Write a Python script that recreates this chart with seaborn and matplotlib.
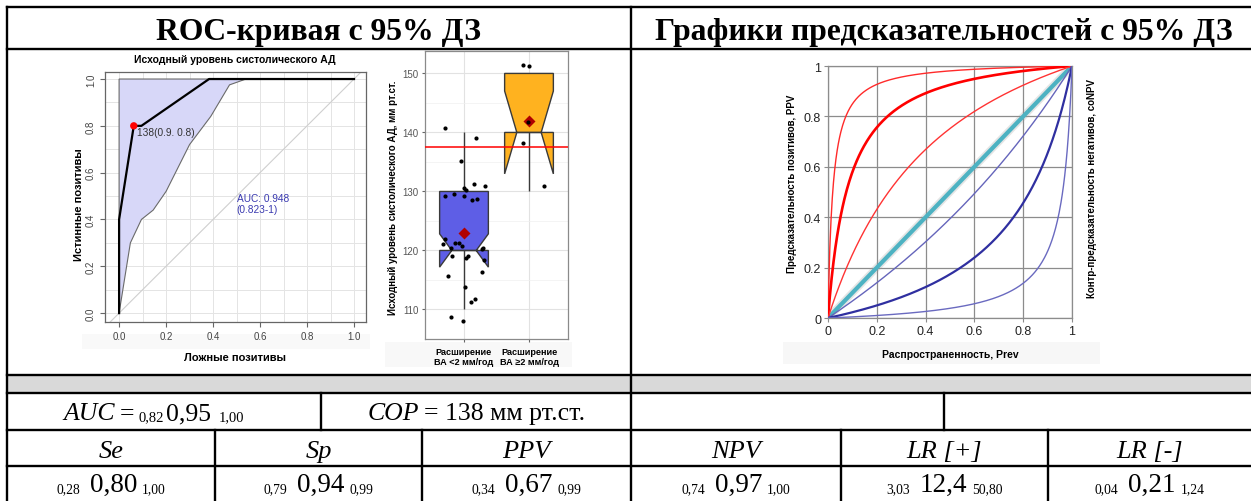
import numpy as np
import pandas as pd
import matplotlib
matplotlib.use("Agg")
import matplotlib.pyplot as plt
import seaborn as sns
from matplotlib.lines import Line2D
from matplotlib.patches import Rectangle

# ---------------- data ----------------
# ROC curve (false positives vs true positives)
roc_fpr = [0.0, 0.0, 0.0625, 0.095, 0.383, 1.0]
roc_tpr = [0.0, 0.40, 0.80, 0.80, 1.0, 1.0]
# lower edge of the 95% CI band
ci_lo_fpr = [0.0, 0.048, 0.095, 0.145, 0.20, 0.25, 0.30, 0.39, 0.47, 0.54]
ci_lo_tpr = [0.0, 0.30, 0.40, 0.44, 0.52, 0.62, 0.72, 0.84, 0.975, 1.0]
cut_fpr = [0.0625]
cut_tpr = [0.80]
cut_label = "138(0.9. 0.8)"
auc_label = "AUC: 0.948\n(0.823-1)"
roc_title = "Исходный уровень систолического АД"
roc_xlabel = "Ложные позитивы"
roc_ylabel = "Истинные позитивы"
roc_ticks = [0.0, 0.2, 0.4, 0.6, 0.8, 1.0]
roc_minor = [0.1, 0.3, 0.5, 0.7, 0.9]

# Box plot: baseline systolic BP by group
groups = ["Расширение\nВА <2 мм/год", "Расширение\nВА ≥2 мм/год"]
sbp_lt2 = [110, 110, 110, 110, 115, 115, 115,
           120, 120, 120, 120, 120, 120, 120, 120, 120, 120, 120, 120,
           130, 130, 130, 130, 130, 130, 130, 130, 130,
           135, 140, 140]
sbp_ge2 = [130, 140, 140, 150, 150]
# jittered points as displayed
dots_lt2 = [140.8, 139.0, 135.1, 131.2, 131.0, 130.2, 130.6, 129.2, 129.6,
            129.2, 128.5, 128.7, 121.3, 121.9, 121.3, 120.3, 120.4, 120.8,
            120.5, 121.1, 119.0, 118.4, 119.1, 118.7, 116.3, 115.6, 113.8,
            111.7, 111.2, 108.1, 108.8]
dots_ge2 = [151.3, 151.4, 141.8, 138.2, 131.0]
sbp_cutoff = 137.5
box_ylabel = "Исходный уровень систолического АД, мм рт.ст."
box_ticks = [110, 120, 130, 140, 150]
box_minor = [105, 115, 125, 135, 145]

# Predictive value curves: likelihood ratios (upper CI, estimate, lower CI)
lr_pos = [50.8, 12.4, 3.03]
lr_neg = [0.65, 0.21, 0.04]
pv_ticks = [0.0, 0.2, 0.4, 0.6, 0.8, 1.0]
pv_ticklabels = ["0", "0.2", "0.4", "0.6", "0.8", "1"]
pv_xlabel = "Распространенность, Prev"
pv_ylabel_left = "Предсказательность позитивов, PPV"
pv_ylabel_right = "Контр-предсказательность негативов, coNPV"

# Table
header_left = "ROC-кривая с 95% ДЗ"
header_right = "Графики предсказательностей с 95% ДЗ"
auc_ci = ["0,82", "0,95", "1,00"]
cop_text = "= 138 мм рт.ст."
metrics = ["Se", "Sp", "PPV", "NPV", "LR [+]", "LR [-]"]
metric_lo = ["0,28", "0,79", "0,34", "0,74", "3,03", "0,04"]
metric_est = ["0,80", "0,94", "0,67", "0,97", "12,4", "0,21"]
metric_hi = ["1,00", "0,99", "0,99", "1,00", "50,80", "1,24"]

# ---------------- figure ----------------
plt.rcParams['font.family'] = ['Liberation Sans', 'DejaVu Sans']
W, H = 1251, 502
fig = plt.figure(figsize=(W / 100, H / 100), dpi=100)
fig.patch.set_facecolor("white")
renderer = fig.canvas.get_renderer()


def fx(x):
    return x / W


def fy(y):
    return 1 - y / H


def rect(x0, y0, x1, y1):
    return [fx(x0), fy(y1), (x1 - x0) / W, (y1 - y0) / H]


def band(x0, y0, x1, y1, color):
    fig.add_artist(Rectangle((fx(x0), fy(y1)), (x1 - x0) / W, (y1 - y0) / H,
                             transform=fig.transFigure, facecolor=color,
                             edgecolor="none", zorder=0))


SERIF = ['Liberation Serif', 'DejaVu Serif']

# ---- table frame ----
band(7, 377, W, 394, "#D9D9D9")
# very faint backgrounds behind axis labels (as in the pasted images)
band(82, 335, 370, 350, "#F9F9F9")
band(385, 343, 572, 368, "#F8F8F8")
band(783, 343, 1100, 365, "#F7F7F7")


def hline(y, x0=7, x1=W):
    fig.add_artist(Line2D([fx(x0), fx(x1)], [fy(y), fy(y)], transform=fig.transFigure,
                          color="black", lw=1.7, solid_capstyle="projecting"))


def vline(x, y0, y1):
    fig.add_artist(Line2D([fx(x), fx(x)], [fy(y0), fy(y1)], transform=fig.transFigure,
                          color="black", lw=1.7, solid_capstyle="projecting"))


for yy in [8, 50, 376, 394, 431, 467]:
    hline(yy)
vline(7, 8, H)
vline(631, 8, H)
vline(321, 394, 431)
vline(944, 394, 431)
for xx in [215, 422, 841, 1048]:
    vline(xx, 431, H)

fig.text(fx(319), fy(40), header_left, ha="center", va="baseline",
         fontsize=22.8, fontweight="bold", family=SERIF)
fig.text(fx(944), fy(40), header_right, ha="center", va="baseline",
         fontsize=22.8, fontweight="bold", family=SERIF)


def rich(cx, base_y, pieces):
    items = []
    for s, size, style, gap, dy in pieces:
        t = fig.text(0, 0, s, fontsize=size, style=style, family=SERIF,
                     ha="left", va="baseline")
        w = t.get_window_extent(renderer=renderer).width
        items.append((t, w, gap, dy))
    total = sum(w + gap for _, w, gap, _ in items)
    x = cx - total / 2
    for t, w, gap, dy in items:
        x += gap
        t.set_position((fx(x), fy(base_y + dy)))
        x += w


rich(154, 420, [("AUC", 18.5, "italic", 0, 0), ("=", 18.5, "normal", 5, 0),
                (auc_ci[0], 10.5, "normal", 4, 1), (auc_ci[1], 18.5, "normal", 2, 0),
                (auc_ci[2], 10.5, "normal", 8, 1)])
rich(476, 420, [("COP", 18.5, "italic", 0, 0), (cop_text, 18.5, "normal", 5, 0)])

col_edges = [7, 215, 422, 631, 841, 1048, W]
for i, name in enumerate(metrics):
    cx = (col_edges[i] + col_edges[i + 1]) / 2
    rich(cx, 458, [(name, 19, "italic", 0, 0)])
    rich(cx, 492, [(metric_lo[i], 9.8, "normal", 0, 1),
                   (metric_est[i], 19.5, "normal", 10, 0),
                   (metric_hi[i], 9.8, "normal", 5, 1)])

# ---------------- ROC plot ----------------
ax1 = fig.add_axes(rect(105, 73, 366, 323))
ax1.set_xlim(-0.06, 1.051)
ax1.set_ylim(-0.038, 1.03)
ax1.set_xticks(roc_ticks)
ax1.set_yticks(roc_ticks)
ax1.set_xticks(roc_minor, minor=True)
ax1.set_yticks(roc_minor, minor=True)
ax1.set_xticklabels([f"{v:.1f}" for v in roc_ticks])
ax1.set_yticklabels([f"{v:.1f}" for v in roc_ticks], rotation=90, va="center")
ax1.grid(which="both", color="#E4E4E4", lw=0.7)
ax1.set_axisbelow(True)
ax1.tick_params(which="minor", length=0)
ax1.tick_params(which="major", length=3.5, color="#666666", labelsize=7,
                labelcolor="#444444", pad=3)
for sp in ax1.spines.values():
    sp.set_color("#666666")
    sp.set_linewidth(0.9)

ax1.fill(list(ci_lo_fpr) + [0.0], list(ci_lo_tpr) + [1.0],
         facecolor="#D7D7F8", edgecolor="#6A6A6A", lw=0.8, zorder=1)
ax1.axline((0, 0), (1, 1), color="#CFCFCF", lw=0.8, zorder=1.5)
sns.lineplot(x=roc_fpr, y=roc_tpr, sort=False, estimator=None, ax=ax1,
             color="black", lw=1.6, zorder=3)
sns.scatterplot(x=cut_fpr, y=cut_tpr, ax=ax1, color="red", s=28,
                edgecolor="none", zorder=4)
ax1.text(0.075, 0.795, cut_label, fontsize=7.3, color="#333333",
         va="top", ha="left", zorder=5)
ax1.text(0.5, 0.515, auc_label, fontsize=7.3, color="#3A3AB0",
         va="top", ha="left", linespacing=1.15, zorder=5)
ax1.set_xlabel("")
ax1.set_ylabel("")
fig.text(fx(235), fy(60), roc_title, ha="center", va="center",
         fontsize=7.5, fontweight="bold")
fig.text(fx(235), fy(358), roc_xlabel, ha="center", va="center",
         fontsize=8, fontweight="bold")
fig.text(fx(79), fy(205), roc_ylabel, ha="center", va="center",
         rotation=90, fontsize=8, fontweight="bold")

# ---------------- Box plot ----------------
ax2 = fig.add_axes(rect(425, 52, 568, 340))
df_box = pd.DataFrame({
    "group": [groups[0]] * len(sbp_lt2) + [groups[1]] * len(sbp_ge2),
    "sbp": sbp_lt2 + sbp_ge2,
})
df_dots = pd.DataFrame({
    "group": [groups[0]] * len(dots_lt2) + [groups[1]] * len(dots_ge2),
    "sbp": dots_lt2 + dots_ge2,
})
box_palette = {groups[0]: "#5E5EE6", groups[1]: "#FFB21F"}
sns.boxplot(data=df_box, x="group", y="sbp", hue="group", order=groups,
            hue_order=groups, palette=box_palette, notch=True, width=0.75,
            saturation=1, linecolor="#3A3A3A", linewidth=1.0,
            showfliers=False, showcaps=False, legend=False, ax=ax2)
np.random.seed(7)
sns.stripplot(data=df_dots, x="group", y="sbp", order=groups, color="black",
              size=3.0, jitter=0.34, ax=ax2, zorder=3)
ax2.axhline(sbp_cutoff, color="red", lw=1.1, zorder=3.5)
sns.pointplot(data=df_box, x="group", y="sbp", order=groups, estimator="mean",
              errorbar=None, color="#B00000", marker="D", markersize=4.5,
              linestyle="none", ax=ax2)
ax2.set_xlim(-0.6, 1.6)
ax2.set_ylim(106.7, 153.8)
ax2.set_yticks(box_ticks)
ax2.set_yticks(box_minor, minor=True)
ax2.grid(which="major", color="#E2E2E2", lw=0.8)
ax2.grid(which="minor", axis="y", color="#F0F0F0", lw=0.5)
ax2.set_axisbelow(True)
ax2.tick_params(which="minor", length=0)
ax2.tick_params(axis="y", which="major", length=2.5, color="#666666",
                labelsize=7, labelcolor="#555555", pad=2)
ax2.tick_params(axis="x", which="major", length=2.5, color="#666666", pad=3)
ax2.set_xticks([0, 1])
ax2.set_xticklabels(groups, fontsize=6.6, fontweight="bold", linespacing=1.2)
ax2.set_xlabel("")
ax2.set_ylabel("")
for sp in ax2.spines.values():
    sp.set_color("#8A8A8A")
    sp.set_linewidth(0.9)
fig.text(fx(393), fy(198), box_ylabel, ha="center", va="center",
         rotation=90, fontsize=7, fontweight="bold")

# ---------------- Predictive value curves ----------------
ax3 = fig.add_axes(rect(828, 67, 1072, 319))
prev = np.linspace(0, 1, 401)
ax3.set_xlim(0, 1)
ax3.set_ylim(0, 1)
ax3.set_xticks(pv_ticks)
ax3.set_yticks(pv_ticks)
ax3.set_xticklabels(pv_ticklabels)
ax3.set_yticklabels(pv_ticklabels)
ax3.grid(color="#8C8C8C", lw=0.9)
ax3.set_axisbelow(True)
ax3.tick_params(length=3, color="#8C8C8C", labelsize=9, labelcolor="#222222", pad=2)
for sp in ax3.spines.values():
    sp.set_color("#8C8C8C")
    sp.set_linewidth(0.9)

red_styles = [("#FF2A2A", 1.0), ("#FF0000", 1.9), ("#FF3333", 1.0)]
blue_styles = [("#6565BB", 1.0), ("#2F2FA0", 1.6), ("#6A6AC0", 1.0)]
sns.lineplot(x=prev, y=prev, ax=ax3, color="#9A9A9A", lw=5.5, alpha=0.25,
             estimator=None, zorder=2)
sns.lineplot(x=prev, y=prev, ax=ax3, color="#4DB2C2", lw=3.0,
             estimator=None, zorder=3)
for lr, (c, lw) in zip(lr_pos, red_styles):
    ppv = lr * prev / (lr * prev + (1 - prev))
    sns.lineplot(x=prev, y=ppv, ax=ax3, color=c, lw=lw, estimator=None, zorder=4)
for lr, (c, lw) in zip(lr_neg, blue_styles):
    conpv = lr * prev / (lr * prev + (1 - prev))
    sns.lineplot(x=prev, y=conpv, ax=ax3, color=c, lw=lw, estimator=None, zorder=4)
ax3.set_xlabel("")
ax3.set_ylabel("")
fig.text(fx(950), fy(355), pv_xlabel, ha="center", va="center",
         fontsize=7.5, fontweight="bold")
fig.text(fx(792), fy(184), pv_ylabel_left, ha="center", va="center",
         rotation=90, fontsize=7, fontweight="bold")
fig.text(fx(1092), fy(188), pv_ylabel_right, ha="center", va="center",
         rotation=90, fontsize=7, fontweight="bold")

fig.savefig("out.png", dpi=100)
